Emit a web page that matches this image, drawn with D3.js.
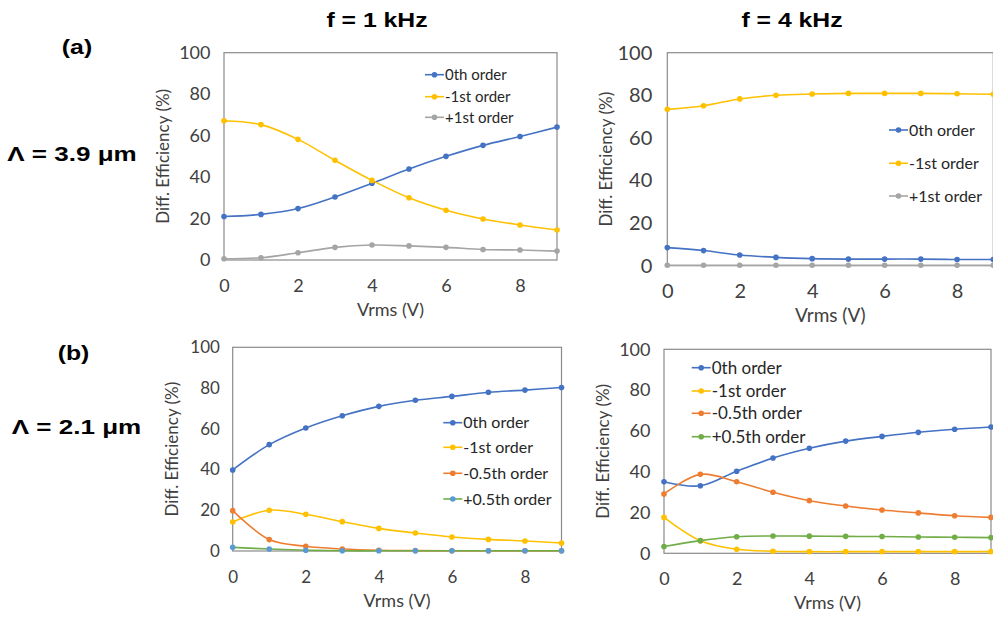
<!DOCTYPE html>
<html>
<head>
<meta charset="utf-8">
<script src="https://cdn.jsdelivr.net/npm/d3@7"></script>
<style>
  body { margin: 0; background: #fff; }
  svg { display: block; }
  .tick text { font-family: Lato, "Open Sans", sans-serif; fill: #404040; }
  .lbl { font-family: "Liberation Sans", Arial, sans-serif; font-weight: bold; fill: #000; }
</style>
</head>
<body>
<div id="vis"></div>
<script>
// x values (Vrms) shared by every panel
const vrms = [0, 1, 2, 3, 4, 5, 6, 7, 8, 9];
const xTicks = [0, 2, 4, 6, 8];
const yTicks = [0, 20, 40, 60, 80, 100];

// (a) Λ = 3.9 µm, f = 1 kHz
const a1Zeroth = [21, 22, 24.8, 30.4, 37, 43.9, 50, 55.3, 59.6, 64.1];
const a1Minus1 = [67.2, 65.3, 58.2, 48.1, 38.4, 30, 24, 19.8, 16.9, 14.5];
const a1Plus1 = [0.6, 1.1, 3.5, 6.1, 7.2, 6.8, 6.1, 5.1, 4.8, 4.3];

// (a) Λ = 3.9 µm, f = 4 kHz
const a2Zeroth = [8.5, 7.1, 5.0, 3.9, 3.3, 3.1, 3.1, 3.1, 2.9, 2.9];
const a2Minus1 = [73.4, 75.1, 78.3, 80, 80.6, 80.9, 80.9, 80.9, 80.7, 80.5];
const a2Plus1 = [0.2, 0.2, 0.2, 0.2, 0.2, 0.2, 0.2, 0.2, 0.2, 0.2];

// (b) Λ = 2.1 µm, f = 1 kHz
const b1Zeroth = [39.8, 52.2, 60.4, 66.4, 71, 74, 75.9, 77.9, 79, 80.3];
const b1Minus1 = [14.2, 20, 18, 14.4, 11.1, 8.8, 6.9, 5.7, 4.9, 3.9];
const b1MinusHalf = [19.8, 5.6, 2.3, 1, 0.4, 0.2, 0.1, 0.1, 0.1, 0.1];
const b1PlusHalf = [1.8, 1.0, 0.4, 0.1, 0.1, 0.1, 0.1, 0.1, 0.1, 0.1];

// (b) Λ = 2.1 µm, f = 4 kHz
const b2Zeroth = [35.1, 33.1, 40.2, 46.7, 51.5, 55, 57.3, 59.3, 60.8, 61.9];
const b2Minus1 = [17.6, 6.2, 2.0, 1.0, 0.8, 0.8, 0.8, 0.8, 0.8, 0.8];
const b2MinusHalf = [29.1, 38.7, 35.1, 29.9, 25.8, 23.2, 21.2, 19.8, 18.4, 17.6];
const b2PlusHalf = [3.3, 6.2, 8.1, 8.5, 8.4, 8.3, 8.2, 8.0, 7.9, 7.7];

const blue = '#4472C4', yellow = '#FFC000', gray = '#A5A5A5', orange = '#ED7D31', green = '#70AD47';

// panel layout: plot box in page pixels + legend placement
const panels = [
  {box: {l: 224, r: 557, t: 52.7, b: 260}, tick: 18, title: 18, leg: {x: 425, rows: [74.7, 96.7, 117.3], size: 15},
   series: [
     {name: '0th order', values: a1Zeroth, color: blue},
     {name: '-1st order', values: a1Minus1, color: yellow},
     {name: '+1st order', values: a1Plus1, color: gray}]},
  {box: {l: 667.3, r: 993.3, t: 52.7, b: 265.7}, tick: 20, title: 19, leg: {x: 889, rows: [130, 163.3, 196], size: 16},
   series: [
     {name: '0th order', values: a2Zeroth, color: blue},
     {name: '-1st order', values: a2Minus1, color: yellow},
     {name: '+1st order', values: a2Plus1, color: gray}]},
  {box: {l: 232.7, r: 561.5, t: 347.3, b: 551}, tick: 17, title: 18, leg: {x: 443.3, rows: [422.7, 447.3, 473.3, 499], size: 16},
   series: [
     {name: '0th order', values: b1Zeroth, color: blue},
     {name: '-1st order', values: b1Minus1, color: yellow},
     {name: '-0.5th order', values: b1MinusHalf, color: orange},
     {name: '+0.5th order', values: b1PlusHalf, color: green, marker: '#5B9BD5'}]},
  {box: {l: 664, r: 991, t: 349.3, b: 553.3}, tick: 18, title: 18, leg: {x: 691.7, rows: [367.7, 391, 413.3, 436.7], size: 17},
   series: [
     {name: '0th order', values: b2Zeroth, color: blue},
     {name: '-1st order', values: b2Minus1, color: yellow},
     {name: '-0.5th order', values: b2MinusHalf, color: orange},
     {name: '+0.5th order', values: b2PlusHalf, color: green}]}
];

const svg = d3.select('#vis').append('svg')
  .attr('width', 993)
  .attr('height', 621);

panels.forEach(p => {
  const x = d3.scaleLinear().domain([0, 9]).range([p.box.l, p.box.r]);
  const y = d3.scaleLinear().domain([0, 100]).range([p.box.b, p.box.t]);
  const g = svg.append('g');

  // y tick labels
  g.append('g')
    .attr('transform', `translate(${p.box.l},0)`)
    .call(d3.axisLeft(y).tickValues(yTicks).tickSize(0).tickPadding(p.tick * 0.75))
    .call(a => a.select('.domain').remove())
    .selectAll('text').style('font-size', p.tick + 'px');

  // x tick labels
  g.append('g')
    .attr('transform', `translate(0,${p.box.b})`)
    .call(d3.axisBottom(x).tickValues(xTicks).tickSize(0).tickPadding(32 - p.tick * 0.71))
    .call(a => a.select('.domain').remove())
    .selectAll('text').style('font-size', p.tick + 'px');

  // plot frame
  g.append('rect')
    .attr('x', p.box.l).attr('y', p.box.t)
    .attr('width', p.box.r - p.box.l).attr('height', p.box.b - p.box.t)
    .attr('fill', 'none').attr('stroke', '#8a8a8a').attr('stroke-width', 1.2);

  // axis titles
  g.append('text')
    .attr('x', (p.box.l + p.box.r) / 2)
    .attr('y', p.box.b + 56)
    .attr('text-anchor', 'middle')
    .style('font-family', 'Lato, sans-serif').style('font-size', p.title + 'px').style('fill', '#404040')
    .text('Vrms (V)');

  g.append('text')
    .attr('transform', `translate(${p.box.l - 55},${(p.box.t + p.box.b) / 2}) rotate(-90)`)
    .attr('text-anchor', 'middle')
    .style('font-family', 'Lato, sans-serif').style('font-size', '17px').style('fill', '#404040')
    .text('Diff. Efficiency (%)');

  const line = d3.line()
    .x((d, i) => x(vrms[i]))
    .y(d => y(d))
    .curve(d3.curveCatmullRom.alpha(0.5));

  p.series.forEach(s => {
    g.append('path')
      .attr('d', line(s.values))
      .attr('fill', 'none')
      .attr('stroke', s.color)
      .attr('stroke-width', 1.6);
    g.selectAll(null)
      .data(s.values)
      .join('circle')
      .attr('cx', (d, i) => x(vrms[i]))
      .attr('cy', d => y(d))
      .attr('r', 2.8)
      .attr('fill', s.marker || s.color);
  });

  // legend
  p.series.forEach((s, i) => {
    const ly = p.leg.rows[i];
    const lg = g.append('g').attr('transform', `translate(${p.leg.x},${ly})`);
    lg.append('line').attr('x1', 0).attr('x2', 19).attr('stroke', s.color).attr('stroke-width', 1.6);
    lg.append('circle').attr('cx', 9.5).attr('r', 2.8).attr('fill', s.marker || s.color);
    lg.append('text')
      .attr('x', 20).attr('dy', '0.35em')
      .style('font-family', 'Lato, sans-serif').style('font-size', p.leg.size + 'px').style('fill', '#262626')
      .text(s.name);
  });
});

// frequency / period labels
const labels = [
  {text: 'f = 1 kHz', x: 377, y: 26.7, size: 20},
  {text: 'f = 4 kHz', x: 792, y: 26.7, size: 20},
  {text: '(a)', x: 77, y: 54, size: 20},
  {text: 'Λ = 3.9 μm', x: 72, y: 161, size: 21},
  {text: '(b)', x: 73.5, y: 360, size: 20},
  {text: 'Λ = 2.1 μm', x: 76.5, y: 434, size: 21}
];

labels.forEach(d => {
  svg.append('text')
    .attr('class', 'lbl')
    .attr('transform', `translate(${d.x},${d.y}) scale(1.24,1)`)
    .attr('text-anchor', 'middle')
    .style('font-size', d.size + 'px')
    .text(d.text);
});
</script>
</body>
</html>
